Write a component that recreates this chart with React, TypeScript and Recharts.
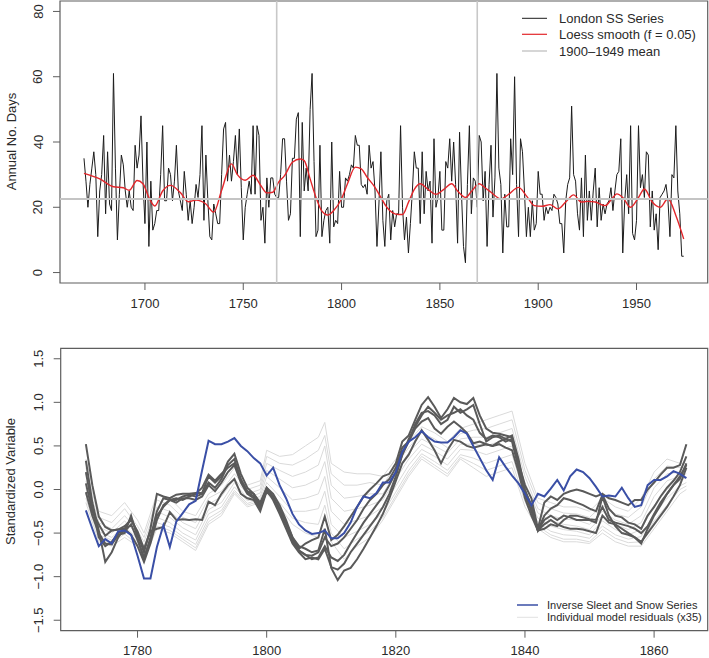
import React from "react";
import { LineChart, Line, XAxis, YAxis, ReferenceLine, ReferenceArea } from "recharts";

const FONT = '"Liberation Sans", Arial, Helvetica, sans-serif';

// ---- top panel: London sleet & snow days ----
const ssStart = 1669;
const ssDays = [
  35, 28, 20, 27, 32, 37, 30, 11, 25, 30,
  42, 18, 37, 21, 19, 61, 32, 10, 24, 36,
  33, 25, 20, 25, 20, 19, 39, 32, 36, 48,
  28, 15, 40, 8, 28, 13, 15, 19, 19, 30,
  45, 22, 22, 32, 30, 22, 28, 39, 25, 22,
  19, 31, 24, 16, 22, 15, 20, 27, 23, 30,
  45, 16, 36, 22, 11, 10, 21, 18, 15, 15,
  30, 44, 46, 28, 36, 28, 34, 42, 30, 44,
  26, 10, 20, 24, 28, 24, 45, 24, 45, 42,
  16, 20, 9, 29, 20, 29, 29, 24, 23, 23,
  30, 41, 41, 28, 16, 18, 35, 35, 47, 49,
  11, 46, 25, 32, 25, 50, 61, 34, 11, 13,
  39, 11, 16, 19, 20, 9, 40, 14, 16, 15,
  31, 20, 20, 29, 28, 30, 33, 32, 42, 39,
  39, 27, 26, 27, 24, 39, 32, 34, 25, 8,
  21, 37, 16, 8, 22, 24, 10, 19, 14, 18,
  18, 45, 20, 10, 17, 6, 15, 25, 37, 32,
  32, 15, 37, 18, 31, 25, 28, 9, 41, 20,
  23, 31, 13, 13, 34, 32, 41, 28, 40, 27,
  9, 43, 24, 8, 3, 27, 45, 18, 29, 28,
  20, 42, 40, 22, 31, 8, 27, 39, 17, 29,
  61, 32, 27, 6, 24, 14, 14, 41, 30, 60,
  27, 11, 41, 37, 25, 11, 20, 11, 22, 13,
  15, 31, 24, 24, 16, 20, 18, 20, 19, 24,
  23, 21, 15, 15, 6, 22, 27, 29, 51, 30,
  28, 18, 13, 29, 11, 36, 16, 25, 16, 25,
  32, 14, 26, 16, 21, 18, 21, 22, 26, 19,
  25, 30, 31, 41, 6, 22, 30, 18, 45, 12,
  10, 16, 45, 26, 30, 23, 37, 36, 14, 25,
  13, 18, 7, 23, 24, 25, 27, 22, 11, 30,
  29, 45, 25, 18, 5, 5,
];
const loessYears = [
  1669, 1677, 1684, 1689, 1692, 1696, 1699, 1702, 1705, 1709, 1713, 1718, 1722, 1726,
  1731, 1735, 1739, 1744, 1747, 1751, 1755, 1759, 1762, 1765, 1768, 1771, 1775, 1779,
  1781, 1784, 1787, 1790, 1793, 1796, 1800, 1803, 1807, 1810, 1813, 1817, 1820, 1823,
  1826, 1829, 1831, 1834, 1837, 1840, 1844, 1848, 1852, 1856, 1859, 1863, 1866, 1870,
  1873, 1876, 1881, 1885, 1890, 1894, 1898, 1902, 1906, 1910, 1914, 1918, 1922, 1925,
  1929, 1934, 1938, 1940, 1943, 1947, 1951, 1954, 1958, 1962, 1966, 1970, 1974,
];
const loessDays = [
  30.4, 28.7, 26.3, 26.0, 25.2, 28.2, 27.2, 23.0, 20.4, 25.0, 26.7, 24.5, 21.7, 22.2,
  21.0, 18.5, 25.2, 33.3, 30.0, 28.3, 29.8, 26.6, 24.4, 24.6, 27.7, 29.7, 33.8, 34.8,
  34.3, 28.7, 23.0, 18.8, 17.6, 19.0, 22.6, 27.2, 32.3, 31.8, 29.2, 26.1, 23.0, 20.0,
  18.3, 17.8, 17.8, 21.5, 25.5, 27.2, 25.5, 24.0, 25.5, 27.2, 25.0, 23.0, 24.8, 27.2,
  26.0, 24.6, 22.6, 24.0, 26.1, 23.5, 20.5, 20.3, 20.8, 19.5, 21.6, 23.8, 21.6, 21.8,
  21.6, 20.5, 23.0, 24.1, 23.0, 20.0, 23.0, 25.6, 21.6, 20.0, 22.6, 17.5, 10.3,
];
const meanDays = 22.5;
const markerYears = [1767, 1869];
const topTicksX = [1700, 1750, 1800, 1850, 1900, 1950];
const topTicksY = [0, 20, 40, 60, 80];

// ---- bottom panel: standardized series ----
const resStart = 1772;
const invSleetSnow = [
  -0.24, -0.45, -0.65, -0.57, -0.62, -0.48, -0.47, -0.52, -0.76, -1.02,
  -1.02, -0.66, -0.41, -0.66, -0.37, -0.27, -0.17, -0.13, 0.22, 0.56,
  0.52, 0.52, 0.55, 0.59, 0.50, 0.44, 0.36, 0.30, 0.16, 0.25,
  0.05, -0.10, -0.28, -0.40, -0.47, -0.51, -0.50, -0.47, -0.56, -0.56,
  -0.50, -0.38, -0.20, -0.08, -0.10, -0.04, 0.08, 0.08, 0.20, 0.43,
  0.55, 0.60, 0.67, 0.60, 0.55, 0.54, 0.54, 0.60, 0.68, 0.64,
  0.50, 0.36, 0.22, 0.11, 0.37, 0.26, 0.16, 0.07, -0.05, -0.18,
  -0.05, -0.08, 0.01, 0.11, -0.01, 0.15, 0.23, 0.20, 0.13, 0.03,
  -0.08, -0.07, -0.08, 0.02, -0.10, -0.20, -0.18, 0.05, 0.11, 0.11,
  0.15, 0.21, 0.18, 0.13,
];
const modelA = [
  0.52, 0.05, -0.31, -0.43, -0.47, -0.46, -0.45, -0.33, -0.50, -0.72,
  -0.45, -0.05, -0.08, -0.10, -0.06, -0.05, -0.05, -0.04, -0.04, 0.15,
  0.08, 0.15, 0.32, 0.41, 0.18, 0.02, -0.05, -0.15, 0.02, -0.08,
  -0.22, -0.38, -0.55, -0.68, -0.62, -0.58, -0.55, -0.31, -0.58, -0.52,
  -0.42, -0.31, -0.20, -0.08, 0.00, 0.07, 0.15, 0.18, 0.30, 0.55,
  0.62, 0.80, 0.97, 1.06, 0.95, 0.82, 0.92, 1.05, 1.00, 0.98,
  1.05, 0.85, 0.70, 0.65, 0.64, 0.62, 0.60, 0.30, 0.05, -0.10,
  -0.45, -0.15, -0.08, -0.12, -0.05, -0.02, 0.00, -0.02, -0.05, -0.08,
  -0.05, -0.10, -0.12, -0.15, -0.18, -0.12, -0.12, 0.00, 0.08, 0.17,
  0.25, 0.25, 0.28, 0.52,
];
const modelB = [
  0.33, -0.15, -0.47, -0.83, -0.72, -0.55, -0.45, -0.52, -0.65, -0.83,
  -0.62, -0.35, -0.18, -0.12, -0.10, -0.12, -0.08, -0.05, 0.02, 0.17,
  0.10, 0.18, 0.25, 0.30, 0.10, -0.03, -0.08, -0.22, 0.00, -0.12,
  -0.28, -0.45, -0.62, -0.72, -0.80, -0.78, -0.80, -0.68, -0.89, -0.92,
  -0.85, -0.72, -0.62, -0.52, -0.42, -0.32, -0.20, -0.05, 0.15, 0.40,
  0.55, 0.75, 0.88, 0.90, 0.85, 0.75, 0.80, 0.95, 0.88, 0.92,
  0.97, 0.75, 0.55, 0.60, 0.62, 0.58, 0.62, 0.35, 0.00, -0.20,
  -0.47, -0.30, -0.22, -0.18, -0.10, -0.12, -0.15, -0.18, -0.22, -0.25,
  -0.06, -0.22, -0.30, -0.32, -0.38, -0.40, -0.45, -0.30, -0.20, -0.08,
  0.02, 0.10, 0.20, 0.38,
];
const modelC = [
  0.07, -0.25, -0.40, -0.53, -0.47, -0.46, -0.42, -0.35, -0.48, -0.68,
  -0.48, -0.45, -0.43, -0.26, -0.35, -0.34, -0.35, -0.34, -0.35, -0.14,
  -0.18, -0.05, 0.05, 0.12, -0.05, -0.10, -0.12, -0.25, -0.02, -0.10,
  -0.25, -0.40, -0.58, -0.70, -0.75, -0.76, -0.72, -0.55, -0.65, -0.62,
  -0.55, -0.45, -0.35, -0.22, -0.12, -0.05, 0.05, 0.12, 0.25, 0.48,
  0.55, 0.70, 0.78, 0.82, 0.70, 0.64, 0.72, 0.78, 0.72, 0.65,
  0.53, 0.55, 0.52, 0.50, 0.55, 0.58, 0.55, 0.25, -0.05, -0.25,
  -0.47, -0.35, -0.30, -0.35, -0.30, -0.32, -0.35, -0.35, -0.35, -0.38,
  -0.08, -0.30, -0.42, -0.50, -0.52, -0.55, -0.62, -0.45, -0.30, -0.18,
  -0.05, 0.05, 0.12, 0.30,
];
const modelD = [
  -0.03, -0.30, -0.50, -0.62, -0.63, -0.52, -0.50, -0.30, -0.55, -0.80,
  -0.55, -0.25, -0.10, -0.12, -0.12, -0.08, -0.06, -0.08, -0.05, 0.08,
  0.02, 0.12, 0.28, 0.35, 0.12, -0.02, -0.05, -0.18, 0.02, -0.05,
  -0.18, -0.35, -0.55, -0.65, -0.68, -0.72, -0.70, -0.45, -0.90, -1.04,
  -0.93, -0.90, -0.80, -0.68, -0.55, -0.42, -0.28, -0.10, 0.10, 0.30,
  0.40, 0.55, 0.68, 0.57, 0.45, 0.30, 0.45, 0.57, 0.55, 0.50,
  0.48, 0.50, 0.52, 0.50, 0.52, 0.48, 0.45, 0.20, -0.10, -0.30,
  -0.47, -0.40, -0.35, -0.40, -0.43, -0.45, -0.45, -0.46, -0.48, -0.50,
  -0.30, -0.38, -0.40, -0.45, -0.50, -0.55, -0.60, -0.50, -0.40, -0.30,
  -0.20, -0.08, 0.05, 0.25,
];
const modelE = [
  0.20, -0.20, -0.55, -0.65, -0.60, -0.50, -0.48, -0.40, -0.58, -0.78,
  -0.58, -0.30, -0.20, -0.12, -0.15, -0.10, -0.10, -0.12, -0.08, 0.05,
  -0.02, 0.08, 0.20, 0.28, 0.08, -0.05, -0.10, -0.20, -0.02, -0.10,
  -0.25, -0.40, -0.60, -0.70, -0.75, -0.80, -0.78, -0.65, -0.78, -0.82,
  -0.75, -0.62, -0.50, -0.38, -0.28, -0.18, -0.08, 0.05, 0.20, 0.40,
  0.58, 0.72, 0.85, 0.95, 0.88, 0.80, 0.85, 0.88, 0.92, 0.85,
  0.80, 0.65, 0.58, 0.62, 0.60, 0.55, 0.58, 0.30, -0.02, -0.18,
  -0.47, -0.45, -0.40, -0.42, -0.35, -0.30, -0.30, -0.32, -0.34, -0.35,
  -0.20, -0.35, -0.38, -0.40, -0.42, -0.45, -0.50, -0.42, -0.28, -0.15,
  -0.05, 0.05, 0.15, 0.28,
];

// light grey residual lines, read at these years
const greyYears = [
  1772, 1774, 1776, 1778, 1780, 1781, 1783, 1785, 1787, 1789,
  1791, 1793, 1795, 1797, 1799, 1800, 1802, 1804, 1806, 1808,
  1809, 1810, 1812, 1814, 1816, 1818, 1820, 1822, 1824, 1826,
  1828, 1830, 1832, 1834, 1836, 1838, 1840, 1842, 1844, 1846,
  1848, 1850, 1852, 1854, 1856, 1858, 1860, 1862, 1864, 1865,
];
const grey1 = [0.35, -0.25, -0.30, -0.15, -0.35, -0.50, -0.05, -0.10, -0.25, -0.30, -0.05, 0.05, 0.25, 0.05, 0.10, 0.45, 0.38, 0.40, 0.50, 0.60, 0.77, 0.30, 0.20, 0.18, 0.18, 0.15, 0.35, 0.55, 0.72, 0.65, 0.55, 0.70, 0.75, 0.80, 0.85, 0.90, 0.30, -0.10, -0.15, -0.20, -0.20, -0.25, -0.10, -0.20, -0.25, -0.10, 0.20, 0.35, 0.30, 0.30];
const grey2 = [0.25, -0.32, -0.38, -0.22, -0.42, -0.55, -0.12, -0.18, -0.32, -0.38, -0.10, -0.02, 0.18, 0.00, 0.05, 0.38, 0.30, 0.28, 0.35, 0.45, 0.62, 0.18, 0.05, 0.05, 0.08, 0.05, 0.28, 0.48, 0.65, 0.58, 0.48, 0.64, 0.68, 0.70, 0.75, 0.80, 0.22, -0.15, -0.22, -0.27, -0.28, -0.32, -0.18, -0.28, -0.32, -0.20, 0.12, 0.27, 0.25, 0.26];
const grey3 = [0.18, -0.38, -0.45, -0.30, -0.47, -0.60, -0.20, -0.25, -0.38, -0.45, -0.17, -0.08, 0.12, -0.05, 0.00, 0.30, 0.22, 0.15, 0.20, 0.28, 0.50, 0.05, -0.10, -0.08, -0.05, -0.05, 0.20, 0.42, 0.58, 0.50, 0.42, 0.58, 0.60, 0.60, 0.65, 0.70, 0.15, -0.22, -0.30, -0.34, -0.35, -0.40, -0.25, -0.35, -0.40, -0.30, 0.02, 0.18, 0.20, 0.22];
const grey4 = [0.10, -0.43, -0.50, -0.36, -0.52, -0.65, -0.25, -0.32, -0.44, -0.52, -0.23, -0.15, 0.08, -0.10, -0.04, 0.22, 0.12, 0.02, 0.05, 0.12, 0.32, -0.10, -0.25, -0.22, -0.18, -0.12, 0.12, 0.35, 0.52, 0.44, 0.35, 0.52, 0.52, 0.50, 0.55, 0.60, 0.08, -0.27, -0.36, -0.40, -0.42, -0.46, -0.30, -0.40, -0.46, -0.38, -0.08, 0.10, 0.15, 0.18];
const grey5 = [0.02, -0.48, -0.55, -0.42, -0.57, -0.70, -0.32, -0.38, -0.50, -0.58, -0.28, -0.20, 0.03, -0.13, -0.08, 0.15, 0.02, -0.12, -0.10, -0.05, 0.15, -0.25, -0.40, -0.35, -0.30, -0.20, 0.04, 0.28, 0.46, 0.38, 0.28, 0.46, 0.45, 0.40, 0.45, 0.50, 0.00, -0.33, -0.42, -0.46, -0.48, -0.52, -0.36, -0.46, -0.52, -0.46, -0.18, 0.00, 0.10, 0.14];
const grey6 = [-0.05, -0.52, -0.58, -0.47, -0.60, -0.74, -0.38, -0.43, -0.54, -0.63, -0.33, -0.24, -0.01, -0.16, -0.11, 0.08, -0.08, -0.25, -0.25, -0.22, -0.02, -0.40, -0.55, -0.48, -0.40, -0.27, -0.03, 0.22, 0.41, 0.32, 0.22, 0.40, 0.36, 0.30, 0.35, 0.40, -0.08, -0.38, -0.48, -0.52, -0.53, -0.56, -0.42, -0.52, -0.57, -0.54, -0.28, -0.10, 0.04, 0.08];
const grey7 = [-0.10, -0.56, -0.62, -0.51, -0.63, -0.78, -0.42, -0.47, -0.57, -0.67, -0.37, -0.27, -0.03, -0.18, -0.13, 0.02, -0.15, -0.33, -0.38, -0.40, -0.18, -0.50, -0.68, -0.57, -0.48, -0.32, -0.07, 0.18, 0.38, 0.28, 0.18, 0.37, 0.30, 0.22, 0.27, 0.32, -0.14, -0.42, -0.52, -0.57, -0.57, -0.60, -0.46, -0.56, -0.61, -0.60, -0.36, -0.18, 0.00, 0.04];
const grey8 = [-0.15, -0.60, -0.65, -0.55, -0.65, -0.80, -0.45, -0.50, -0.60, -0.70, -0.40, -0.30, -0.05, -0.20, -0.15, -0.05, -0.20, -0.40, -0.50, -0.55, -0.30, -0.60, -0.80, -0.65, -0.55, -0.35, -0.10, 0.15, 0.35, 0.25, 0.15, 0.35, 0.25, 0.15, 0.20, 0.25, -0.20, -0.45, -0.55, -0.60, -0.60, -0.62, -0.50, -0.60, -0.65, -0.65, -0.45, -0.25, -0.05, 0.00];

const botTicksX = [1780, 1800, 1820, 1840, 1860];
const botTicksY = [-1.5, -1, -0.5, 0, 0.5, 1, 1.5];

const topRows = ssDays.map((v, i) => ({ year: ssStart + i, days: v }));
const loessRows = loessYears.map((y, i) => ({ year: y, days: loessDays[i] }));
const resRows = invSleetSnow.map((v, i) => ({
  year: resStart + i,
  inv: v,
  a: modelA[i],
  b: modelB[i],
  c: modelC[i],
  d: modelD[i],
  e: modelE[i],
}));
const greyLines = [grey1, grey2, grey3, grey4, grey5, grey6, grey7, grey8];
const greyRows = greyYears.map((y, i) => {
  const row: any = { year: y };
  greyLines.forEach((g, k) => (row["g" + k] = g[i]));
  return row;
});

const FRAME = "#5e5e5e";
const TEXT = "#2a2a2a";

function XTick({ x, y, payload, off }: any) {
  return (
    <text x={x} y={y + off} textAnchor="middle" fontSize={13} fontFamily={FONT} fill={TEXT}>
      {payload.value}
    </text>
  );
}

function YTick({ x, y, payload, fmt }: any) {
  const bx = x - 10.5;
  return (
    <text
      x={bx}
      y={y}
      transform={`rotate(-90 ${bx} ${y})`}
      textAnchor="middle"
      fontSize={13}
      fontFamily={FONT}
      fill={TEXT}
    >
      {fmt(payload.value)}
    </text>
  );
}

const fmtInt = (v: number) => String(v);
const fmtStd = (v: number) => v.toFixed(1).replace("-", "\u2212");

export default function App() {
  const topX: [number, number] = [1656.8, 1986.2];
  const topY: [number, number] = [-3.2, 83.2];
  const botX: [number, number] = [1768.1, 1868.3];
  const botY: [number, number] = [-1.62, 1.62];

  return (
    <div style={{ position: "relative", width: 709, height: 658, overflow: "hidden", background: "#fff" }}>
      <style>{"body{margin:0}"}</style>

      <div style={{ position: "absolute", left: 0, top: 0 }}>
        <LineChart width={709} height={330} margin={{ top: 1, right: 1.3, bottom: 0, left: 0 }}>
          <XAxis
            type="number"
            dataKey="year"
            domain={topX}
            ticks={topTicksX}
            allowDataOverflow
            axisLine={false}
            tickLine={{ stroke: FRAME }}
            tickSize={7}
            tickMargin={0}
            height={47}
            interval={0}
            tick={(p: any) => <XTick {...p} off={17.5} />}
          />
          <YAxis
            type="number"
            domain={topY}
            ticks={topTicksY}
            allowDataOverflow
            axisLine={false}
            tickLine={{ stroke: FRAME }}
            tickSize={7}
            tickMargin={0}
            width={60}
            interval={0}
            tick={(p: any) => <YTick {...p} fmt={fmtInt} />}
          />
          <Line
            data={topRows}
            dataKey="days"
            type="linear"
            stroke="#1c1c1c"
            strokeWidth={1}
            dot={false}
            isAnimationActive={false}
          />
          <Line
            data={loessRows}
            dataKey="days"
            type="monotone"
            stroke="#e3262b"
            strokeWidth={1.4}
            dot={false}
            isAnimationActive={false}
          />
          <ReferenceLine y={meanDays} stroke="#c4c4c4" strokeWidth={2} />
          {markerYears.map((yr) => (
            <ReferenceLine key={yr} x={yr} stroke="#c8c8c8" strokeWidth={1.6} />
          ))}
          <ReferenceArea
            x1={topX[0]}
            x2={topX[1]}
            y1={topY[0]}
            y2={topY[1]}
            fill="none"
            fillOpacity={0}
            stroke={FRAME}
            strokeWidth={1.2}
          />
        </LineChart>
      </div>

      <div style={{ position: "absolute", left: 0, top: 330 }}>
        <LineChart width={709} height={340} margin={{ top: 18.3, right: 1.3, bottom: 12, left: 0 }}>
          <XAxis
            type="number"
            dataKey="year"
            domain={botX}
            ticks={botTicksX}
            allowDataOverflow
            axisLine={false}
            tickLine={{ stroke: FRAME }}
            tickSize={7}
            tickMargin={0}
            height={27.3}
            interval={0}
            tick={(p: any) => <XTick {...p} off={17.3} />}
          />
          <YAxis
            type="number"
            domain={botY}
            ticks={botTicksY}
            allowDataOverflow
            axisLine={false}
            tickLine={{ stroke: FRAME }}
            tickSize={7}
            tickMargin={0}
            width={60.7}
            interval={0}
            tick={(p: any) => <YTick {...p} fmt={fmtStd} />}
          />
          {greyLines.map((_, k) => (
            <Line
              key={"g" + k}
              data={greyRows}
              dataKey={"g" + k}
              type="linear"
              stroke="#dadada"
              strokeWidth={1}
              dot={false}
              isAnimationActive={false}
            />
          ))}
          {["a", "b", "c", "d", "e"].map((k) => (
            <Line
              key={k}
              data={resRows}
              dataKey={k}
              type="linear"
              stroke="#5a5a5a"
              strokeWidth={2}
              dot={false}
              isAnimationActive={false}
            />
          ))}
          <Line
            data={resRows}
            dataKey="inv"
            type="linear"
            stroke="#3a4fa6"
            strokeWidth={2}
            dot={false}
            isAnimationActive={false}
          />
          <ReferenceArea
            x1={botX[0]}
            x2={botX[1]}
            y1={botY[0]}
            y2={botY[1]}
            fill="none"
            fillOpacity={0}
            stroke={FRAME}
            strokeWidth={1.2}
          />
        </LineChart>
      </div>

      <svg
        width={709}
        height={658}
        style={{ position: "absolute", left: 0, top: 0, pointerEvents: "none" }}
        fontFamily={FONT}
      >
        <text x={16} y={141.5} transform="rotate(-90 16 141.5)" textAnchor="middle" fontSize={13} fill={TEXT}>
          Annual No. Days
        </text>
        <text x={15} y={481.5} transform="rotate(-90 15 481.5)" textAnchor="middle" fontSize={13} fill={TEXT}>
          Standardized Variable
        </text>

        <line x1={522} x2={547} y1={18.3} y2={18.3} stroke="#1c1c1c" strokeWidth={1} />
        <line x1={522} x2={547} y1={34.3} y2={34.3} stroke="#e3262b" strokeWidth={1.2} />
        <line x1={522} x2={547} y1={51} y2={51} stroke="#d6d6d6" strokeWidth={2} />
        <text x={559} y={23} fontSize={13} fill={TEXT}>London SS Series</text>
        <text x={559} y={39} fontSize={13} fill={TEXT}>Loess smooth (f = 0.05)</text>
        <text x={559} y={55.7} fontSize={13} fill={TEXT}>1900–1949 mean</text>

        <line x1={517} x2={538} y1={605} y2={605} stroke="#3a4fa6" strokeWidth={1.5} />
        <line x1={517} x2={538} y1={617.3} y2={617.3} stroke="#e2e2e2" strokeWidth={1} />
        <text x={547} y={609} fontSize={11} fill={TEXT}>Inverse Sleet and Snow Series</text>
        <text x={547} y={621.3} fontSize={11} fill={TEXT}>Individual model residuals (x35)</text>
      </svg>
    </div>
  );
}
